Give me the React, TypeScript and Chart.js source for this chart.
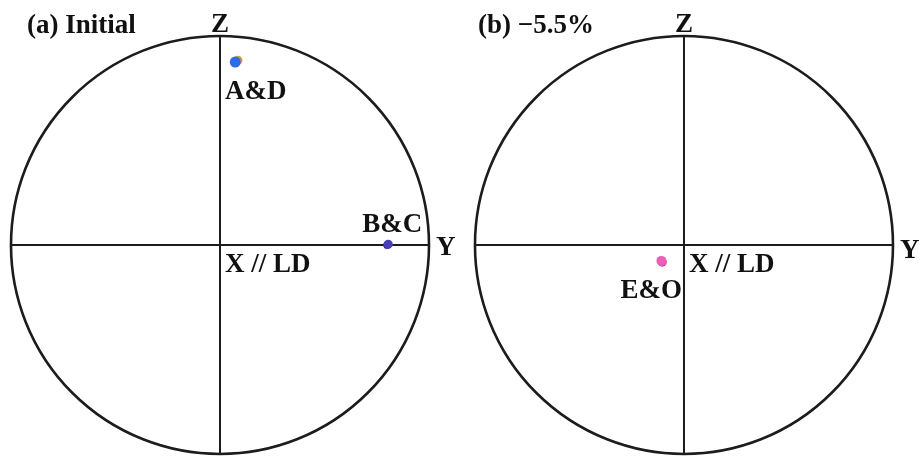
import React, { useEffect, useRef } from "react";
import { Chart, registerables } from "chart.js";

Chart.register(...registerables);

// Pole figure points (unit circle coordinates: x -> Y direction, y -> Z direction)
const pointsA = [{ x: 0.086, y: 0.884 }];
const pointsD = [{ x: 0.073, y: 0.875 }];
const pointsB = [{ x: 0.805, y: 0.004 }];
const pointsC = [{ x: 0.800, y: 0.0 }];
const pointsE = [{ x: -0.108, y: -0.076 }];
const pointsO = [{ x: -0.104, y: -0.082 }];

const panelTitles = ["(a) Initial", "(b) \u22125.5%"];
const pointLabels = ["A&D", "B&C", "E&O"];
const axisLabels = ["Z", "Y", "X // LD"];

const PANEL_OFFSET = 2.22; // data x of right circle centre

const shift = (pts: { x: number; y: number }[], dx: number) =>
  pts.map((p) => ({ x: p.x + dx, y: p.y }));

const LINE = "#1c1c1c";
const FONT = "bold 27px 'Liberation Serif', 'Times New Roman', serif";

const polePlugin = {
  id: "pole",
  beforeDatasetsDraw(chart: any) {
    const { ctx, scales } = chart;
    const xs = scales.x;
    const ys = scales.y;
    [0, PANEL_OFFSET].forEach((cx) => {
      const px = xs.getPixelForValue(cx);
      const py = ys.getPixelForValue(0);
      const rx = xs.getPixelForValue(cx + 1) - px;
      const ry = py - ys.getPixelForValue(1);
      ctx.save();
      ctx.strokeStyle = LINE;
      ctx.lineWidth = 2.6;
      ctx.beginPath();
      ctx.ellipse(px, py, rx, ry, 0, 0, Math.PI * 2);
      ctx.stroke();
      ctx.lineWidth = 2;
      ctx.beginPath();
      ctx.moveTo(px - rx, py);
      ctx.lineTo(px + rx, py);
      ctx.moveTo(px, py - ry);
      ctx.lineTo(px, py + ry);
      ctx.stroke();
      ctx.restore();
    });
  },
  afterDatasetsDraw(chart: any) {
    const { ctx, scales } = chart;
    const xs = scales.x;
    const ys = scales.y;
    const c0x = xs.getPixelForValue(0);
    const c1x = xs.getPixelForValue(PANEL_OFFSET);
    const cy = ys.getPixelForValue(0);
    const r = xs.getPixelForValue(1) - c0x;
    ctx.save();
    ctx.fillStyle = "#111";
    ctx.font = FONT;
    ctx.textBaseline = "alphabetic";
    const txt = (s: string, x: number, y: number, align: CanvasTextAlign) => {
      ctx.textAlign = align;
      ctx.fillText(s, x, y);
    };
    // titles
    txt(panelTitles[0], 27, 33, "left");
    txt(panelTitles[1], 478, 33, "left");
    [c0x, c1x].forEach((cx, i) => {
      txt(axisLabels[0], cx, cy - r - 4, "center");
      txt(axisLabels[1], cx + r + 7, cy + (i === 0 ? 10 : 13), "left");
      txt(axisLabels[2], cx + 5, cy + 27, "left");
    });
    txt(pointLabels[0], c0x + 5, ys.getPixelForValue(0.875) + 37, "left");
    txt(pointLabels[1], xs.getPixelForValue(0.8) + 35, cy - 13, "right");
    txt(pointLabels[2], c1x - 2, cy + 53, "right");
    ctx.restore();
  },
};

export default function App() {
  const ref = useRef<HTMLCanvasElement | null>(null);
  useEffect(() => {
    document.body.style.margin = "0";
    const canvas = ref.current!;
    const ds = (label: string, data: any[], color: string, radius: number) => ({
      label,
      data,
      backgroundColor: color,
      borderColor: color,
      pointRadius: radius,
      pointBorderWidth: 0,
      showLine: false,
    });
    const chart = new Chart(canvas, {
      type: "scatter",
      data: {
        datasets: [
          ds("D", pointsD, "#2f6be6", 5.5),
          ds("A", pointsA, "#d09a50", 4.5),
          ds("B", pointsB, "#4a3fb8", 4.5),
          ds("C", pointsC, "#3a2a8c", 4),
          ds("E", shift(pointsE, PANEL_OFFSET), "#e860b8", 5),
          ds("O", shift(pointsO, PANEL_OFFSET), "#d9309a", 4.5),
        ],
      },
      options: {
        animation: false,
        responsive: false,
        maintainAspectRatio: false,
        layout: { padding: 0, autoPadding: false },
        plugins: { legend: { display: false }, tooltip: { enabled: false } },
        scales: {
          x: { type: "linear", min: -1.0526, max: 3.354, display: false },
          y: { type: "linear", min: -1.0239, max: 1.1722, display: false },
        },
      },
      plugins: [polePlugin],
    });
    return () => chart.destroy();
  }, []);
  return (
    <div style={{ width: 921, height: 459, background: "#fff" }}>
      <canvas ref={ref} width={921} height={459} style={{ display: "block" }} />
    </div>
  );
}
